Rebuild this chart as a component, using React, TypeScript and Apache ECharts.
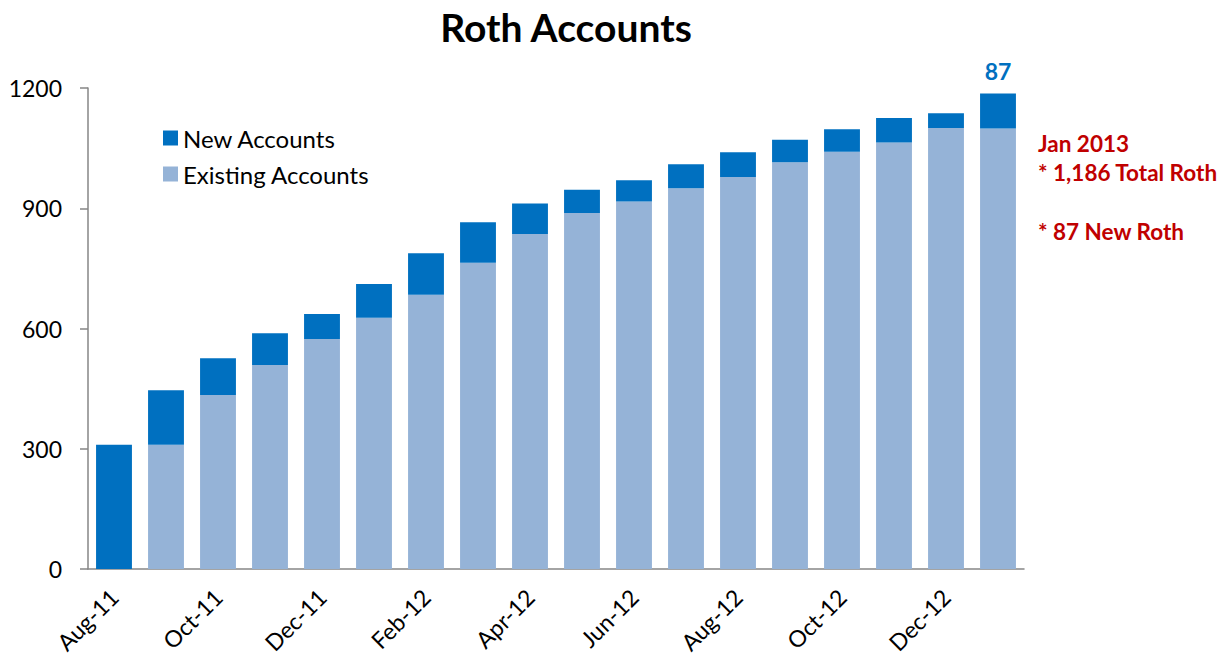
import React, { useEffect, useRef } from "react";
import * as echarts from "echarts";

const categories = [
  "Aug-11", "Sep-11", "Oct-11", "Nov-11", "Dec-11", "Jan-12", "Feb-12", "Mar-12", "Apr-12",
  "May-12", "Jun-12", "Jul-12", "Aug-12", "Sep-12", "Oct-12", "Nov-12", "Dec-12", "Jan-13",
];
const existingAccounts = [0, 310, 434, 509, 574, 627, 684, 764, 836, 888, 917, 950, 978, 1015, 1041, 1064, 1100, 1099];
const newAccounts = [310, 136, 92, 79, 62, 84, 104, 101, 76, 58, 53, 60, 62, 56, 56, 61, 37, 87];
const yTicks = [0, 300, 600, 900, 1200];
const annotationLines = ["Jan 2013", "* 1,186 Total Roth", "", "* 87 New Roth"];

const FONT = "Lato, 'Noto Sans', sans-serif";
const DARK = "#0070C0";
const LIGHT = "#95B3D7";
const RED = "#C00000";
const AXIS = "#868686";

export default function App() {
  const ref = useRef<HTMLDivElement>(null);
  useEffect(() => {
    if (!ref.current) return;
    const chart = echarts.init(ref.current, null, { renderer: "svg" });
    const lastIdx = newAccounts.length - 1;
    chart.setOption({
      animation: false,
      backgroundColor: "#ffffff",
      textStyle: { fontFamily: FONT },
      title: {
        text: "Roth Accounts",
        left: 561,
        top: 2,
        textAlign: "center",
        textStyle: { fontFamily: FONT, fontSize: 39, fontWeight: "bold", color: "#000" },
      },
      legend: {
        data: ["New Accounts", "Existing Accounts"],
        orient: "vertical",
        left: 158,
        top: 121,
        itemWidth: 15,
        itemHeight: 15,
        itemGap: 12,
        icon: "rect",
        textStyle: { fontFamily: FONT, fontSize: 24, color: "#000" },
      },
      grid: { left: 88, right: 205, top: 88, bottom: 93, containLabel: false },
      xAxis: {
        type: "category",
        data: categories,
        boundaryGap: true,
        axisLine: { lineStyle: { color: AXIS, width: 1.5 } },
        axisTick: { interval: 1, length: 8, lineStyle: { color: AXIS, width: 1.5 } },
        axisLabel: {
          interval: 1,
          rotate: 45,
          fontSize: 23,
          color: "#000",
          fontFamily: FONT,
          margin: 24,
          padding: [0, 0, 16, 0],
        },
      },
      yAxis: {
        type: "value",
        min: 0,
        max: 1200,
        interval: 300,
        splitLine: { show: false },
        axisLine: { show: true, lineStyle: { color: AXIS, width: 1.5 } },
        axisTick: { show: true, length: 8, lineStyle: { color: AXIS, width: 1.5 } },
        axisLabel: {
          fontSize: 23,
          color: "#000",
          fontFamily: FONT,
          margin: 26,
          formatter: (v: number) => (yTicks.includes(v) ? String(v) : ""),
        },
      },
      series: [
        {
          name: "Existing Accounts",
          type: "bar",
          stack: "total",
          barWidth: "69%",
          itemStyle: { color: LIGHT },
          data: existingAccounts,
        },
        {
          name: "New Accounts",
          type: "bar",
          stack: "total",
          barWidth: "69%",
          itemStyle: { color: DARK },
          data: newAccounts.map((v, i) =>
            i === lastIdx
              ? {
                  value: v,
                  label: {
                    show: true,
                    position: "top",
                    distance: 11,
                    fontFamily: FONT,
                    fontSize: 23,
                    fontWeight: "bold",
                    color: DARK,
                  },
                }
              : v
          ),
        },
      ],
      graphic: annotationLines
        .map((t, i) => ({ t, i }))
        .filter((o) => o.t !== "")
        .map(({ t, i }) => ({
          type: "text",
          left: 1038,
          top: 132 + i * 29.3,
          style: { text: t, fontFamily: FONT, fontSize: 22.5, fontWeight: "bold", fill: RED },
        })),
    });
    return () => chart.dispose();
  }, []);
  return <div ref={ref} style={{ width: 1229, height: 662, margin: -8 }} />;
}
